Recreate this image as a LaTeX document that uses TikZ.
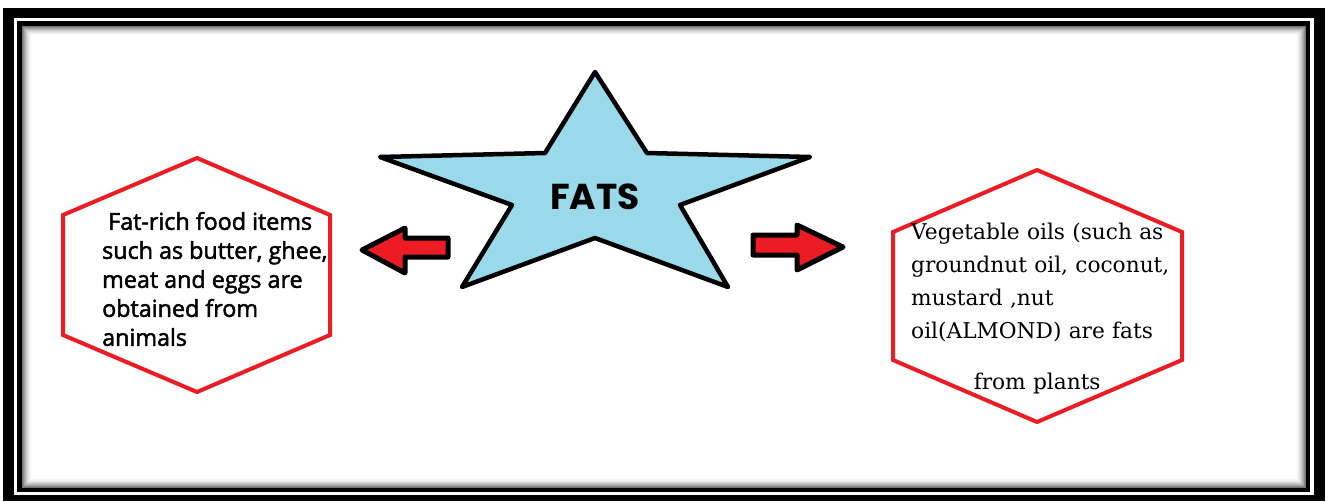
\documentclass[tikz,border=0pt]{standalone}
\usepackage{fontspec}
\newfontfamily\lfont{Open Sans}[UprightFeatures={FakeBold=2}]
\newfontfamily\rfont{DejaVu Serif}
\newfontfamily\ffont{Poppins}
\definecolor{paintred}{HTML}{ED1C24}
\definecolor{starblue}{HTML}{99D9EA}
\tikzset{
  hexa/.style={draw=paintred, line width=4pt, line join=miter},
  blockarrow/.style={draw=black, fill=paintred, line width=5pt, line join=round},
  starshape/.style={draw=black, fill=starblue, line width=4.5pt, line join=round},
  lefttext/.style={font=\lfont\fontsize{23.3}{29}\selectfont, align=left, inner sep=0pt, anchor=west},
  righttext/.style={font=\rfont\fontsize{21.7}{33}\selectfont, align=left, text width=272pt, inner sep=0pt, anchor=west},
}
\begin{document}
\begin{tikzpicture}[x=1pt,y=-1pt]
\useasboundingbox (0,0) rectangle (1330,501);
\fill[white] (0,0) rectangle (1330,501);
% frame
\fill[black] (3,8) rectangle (1325,501);
\fill[white] (14,18) rectangle (1314,495);
\fill[black] (17,21) rectangle (1310,492);
\fill[white] (22,26) rectangle (1306,488);
\foreach \i/\c in {0/55,1/45,2/36,3/28,4/21,5/15,6/10,7/6,8/3}{
  \draw[line width=1.05pt, black!\c] ({22.5+\i},{26.5+\i}) rectangle ({1305.5-\i},{487.5-\i});
}
% star
\coordinate (s1) at (595,72);
\coordinate (s2) at (647,153);
\coordinate (s3) at (810,157);
\coordinate (s4) at (680,205);
\coordinate (s5) at (728,287);
\coordinate (s6) at (595,238);
\coordinate (s7) at (462,287);
\coordinate (s8) at (512,205);
\coordinate (s9) at (380,157);
\coordinate (s10) at (545,153);
\draw[starshape] (s1) -- (s2) -- (s3) -- (s4) -- (s5) -- (s6) -- (s7) -- (s8) -- (s9) -- (s10) -- cycle;
\node (fats) at (595,197) {\ffont\bfseries\fontsize{36}{36}\selectfont FATS};
% arrows
\draw[blockarrow] (362,250) -- (405,228) -- (405,238) -- (448,238) -- (448,257) -- (405,257) -- (405,273) -- cycle;
\draw[blockarrow] (753,235) -- (797,235) -- (797,225) -- (843,247) -- (797,270) -- (797,255) -- (753,255) -- cycle;
% left hexagon
\draw[hexa] (197,158) -- (330,215) -- (330,335) -- (197,392) -- (63,335) -- (63,215) -- cycle;
\node[lefttext] (animal) at (102,279) {\hspace{6pt}Fat-rich food items\\such as butter, ghee,\\meat and eggs are\\obtained from\\animals};
% right hexagon
\draw[hexa] (1037,170) -- (1182,232) -- (1182,360) -- (1037,422) -- (893,360) -- (893,232) -- cycle;
\node[righttext] (plant) at (911,309) {Vegetable oils (such as\\groundnut oil, coconut,\\mustard ,nut\\oil(ALMOND) are fats\\[18pt]\makebox[252pt]{from plants}};
\end{tikzpicture}
\end{document}
